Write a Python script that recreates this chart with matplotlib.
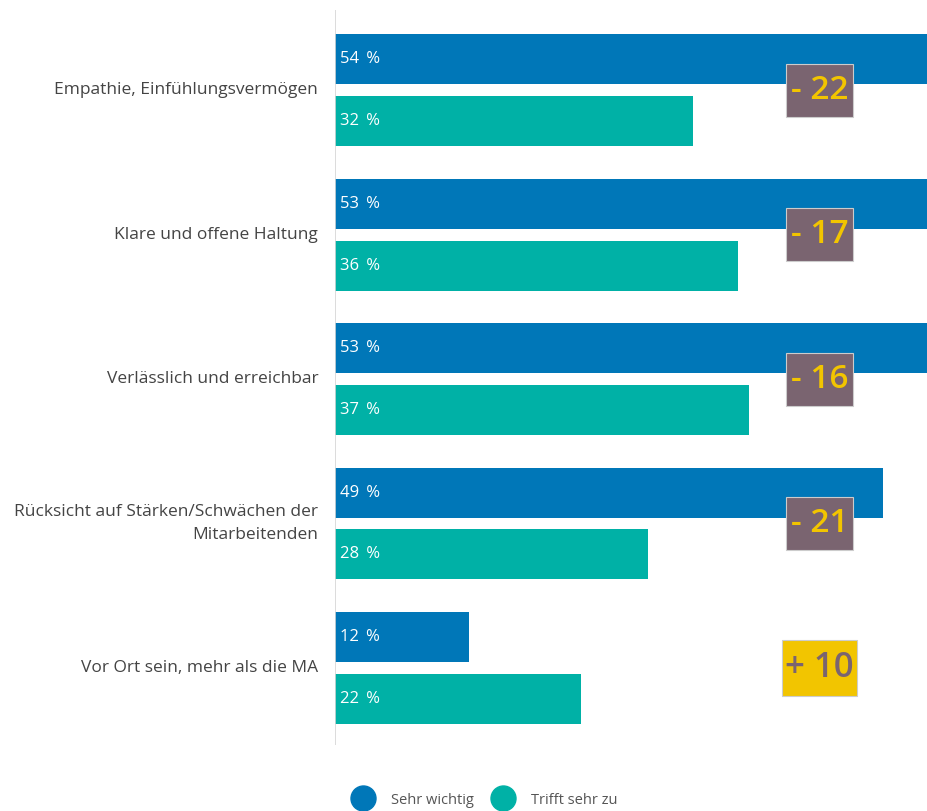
import numpy as np
import matplotlib.pyplot as plt
from matplotlib.lines import Line2D
from matplotlib.patches import Rectangle

plt.rcParams['font.family'] = ['Open Sans', 'DejaVu Sans']

categories = ['Empathie, Einfühlungsvermögen', 'Klare und offene Haltung',
              'Verlässlich und erreichbar',
              'Rücksicht auf Stärken/Schwächen der\nMitarbeitenden',
              'Vor Ort sein, mehr als die MA']
sehr_wichtig = [54, 53, 53, 49, 12]
trifft_sehr_zu = [32, 36, 37, 28, 22]

blue = '#0077b8'
teal = '#00b1a6'
badge_grey = '#7a6470'
badge_yellow = '#f2c500'

fig = plt.figure(figsize=(9.28, 8.11), dpi=100)
ax = fig.add_axes([335 / 928, 1 - 745 / 811, 1 - 335 / 928, (745 - 10) / 811])

y = np.arange(len(categories))
h = 0.346
off = 0.2145
ax.barh(y - off, sehr_wichtig, height=h, color=blue)
ax.barh(y + off, trifft_sehr_zu, height=h, color=teal)

bx = 43.3

for i in range(len(categories)):
    ax.text(0.45, y[i] - off, f'{sehr_wichtig[i]}\u2009 %', color='white', fontsize=12,
            va='center', ha='left')
    ax.text(0.45, y[i] + off, f'{trifft_sehr_zu[i]}\u2009 %', color='white', fontsize=12,
            va='center', ha='left')
    ax.text(-1.5, y[i], categories[i], ha='right', va='center', fontsize=12.5,
            color='#444444', linespacing=1.6)

    d = trifft_sehr_zu[i] - sehr_wichtig[i]
    if d < 0:
        txt, fc, tc = f'- {abs(d)}', badge_grey, badge_yellow
        bw, bh, fs = 6.0, 0.367, 24
    else:
        txt, fc, tc = f'+ {d}', badge_yellow, badge_grey
        bw, bh, fs = 6.7, 0.394, 25
    ax.add_patch(Rectangle((bx - bw / 2, y[i] - bh / 2), bw, bh, fc=fc,
                           ec='#cccccc', lw=0.8, zorder=3))
    ax.text(bx, y[i], txt, ha='center', va='center', fontsize=fs,
            fontweight='semibold', color=tc, zorder=4)

ax.set_xlim(0, 53)
ax.set_ylim(4.533, -0.554)
ax.axis('off')
ax.axvline(0, color='#d6d6d6', lw=1.2)

handles = [Line2D([], [], marker='o', ls='', markersize=18, color=blue),
           Line2D([], [], marker='o', ls='', markersize=18, color=teal)]
fig.legend(handles, ['Sehr wichtig', 'Trifft sehr zu'], loc='center',
           bbox_to_anchor=(483 / 928, 1 - 800 / 811), ncol=2, frameon=False,
           fontsize=10.5, labelcolor='#555555', handletextpad=0.9, columnspacing=1.0)

fig.savefig('out.png', dpi=100)
